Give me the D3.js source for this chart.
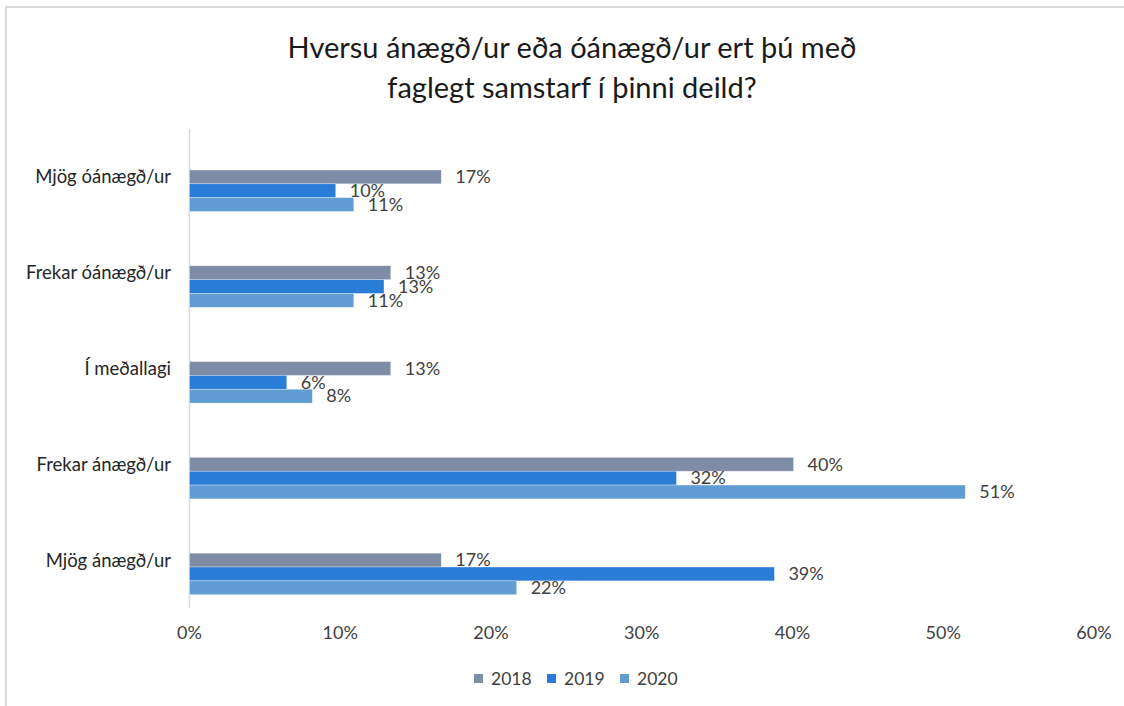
<!DOCTYPE html>
<html>
<head>
<meta charset="utf-8">
<script src="https://cdn.jsdelivr.net/npm/d3@7"></script>
<style>
  body { margin: 0; background: #fff; }
  svg { display: block; font-family: Lato, 'Open Sans', sans-serif; }
</style>
</head>
<body>
<script>
// categories, top to bottom
const categories = ['Mjög óánægð/ur', 'Frekar óánægð/ur', 'Í meðallagi', 'Frekar ánægð/ur', 'Mjög ánægð/ur']
const series = ['2018', '2019', '2020']
const colors = ['#7f8ca6', '#2a7dd6', '#5f9dd3']
// shares per year, same order as categories
const values2018 = [0.167, 0.1335, 0.1335, 0.4007, 0.167]
const values2019 = [0.097, 0.129, 0.0645, 0.323, 0.388]
const values2020 = [0.109, 0.109, 0.0815, 0.5146, 0.217]
const xTicks = [0, 0.1, 0.2, 0.3, 0.4, 0.5, 0.6]
const titleLines = ['Hversu ánægð/ur eða óánægð/ur ert þú með', 'faglegt samstarf í þinni deild?']

const allValues = [values2018, values2019, values2020]

const width = 1124
const height = 706

const svg = d3.select('body')
  .append('svg')
  .attr('width', width)
  .attr('height', height)

// light frame around the chart
svg.append('path')
  .attr('d', 'M6,' + height + 'V7H' + width)
  .attr('fill', 'none')
  .attr('stroke', '#d9d9d9')
  .attr('stroke-width', 2)

// title
svg.append('text')
  .attr('y', 48)
  .attr('text-anchor', 'middle')
  .attr('font-size', 29)
  .attr('fill', '#1a1a1a')
  .selectAll('tspan')
  .data(titleLines)
  .enter()
  .append('tspan')
  .attr('x', 572)
  .attr('y', function (d, i) { return 48 + i * 40 })
  .attr('dy', '0.35em')
  .text(function (d) { return d })

const x = d3.scaleLinear().domain([0, 0.6]).range([189.5, 1094])
const y = d3.scaleBand().domain(categories).range([129, 608])
const ySeries = d3.scaleBand().domain(series).range([0, 41.5])

// category axis line
svg.append('line')
  .attr('x1', x(0))
  .attr('x2', x(0))
  .attr('y1', y.range()[0])
  .attr('y2', y.range()[1])
  .attr('stroke', '#d9d9d9')
  .attr('stroke-width', 1.5)

// x tick labels
svg.append('g')
  .selectAll('text')
  .data(xTicks)
  .enter()
  .append('text')
  .attr('x', function (d) { return x(d) })
  .attr('y', 633)
  .attr('dy', '0.35em')
  .attr('text-anchor', 'middle')
  .attr('font-size', 18)
  .attr('fill', '#404040')
  .text(d3.format('.0%'))

// category labels
svg.append('g')
  .selectAll('text')
  .data(categories)
  .enter()
  .append('text')
  .attr('x', 171)
  .attr('y', function (d) { return y(d) + y.bandwidth() / 2 })
  .attr('dy', '0.35em')
  .attr('text-anchor', 'end')
  .attr('font-size', 18.5)
  .attr('fill', '#262626')
  .text(function (d) { return d })

// bars: the first series bar sits on the category centre
const rows = []
categories.forEach(function (c, ci) {
  series.forEach(function (s, si) {
    rows.push({ cat: c, year: s, si: si, value: allValues[si][ci] })
  })
})

function barTop (d) {
  return y(d.cat) + y.bandwidth() / 2 - ySeries.bandwidth() / 2 + ySeries(d.year)
}

svg.append('g')
  .selectAll('rect')
  .data(rows)
  .enter()
  .append('rect')
  .attr('x', x(0))
  .attr('y', barTop)
  .attr('width', function (d) { return x(d.value) - x(0) })
  .attr('height', ySeries.bandwidth())
  .attr('fill', function (d) { return colors[d.si] })
  .attr('stroke', '#ffffff')
  .attr('stroke-opacity', 0.5)
  .attr('stroke-width', 0.6)

// value labels
svg.append('g')
  .selectAll('text')
  .data(rows)
  .enter()
  .append('text')
  .attr('x', function (d) { return x(d.value) + 14 })
  .attr('y', function (d) { return barTop(d) + ySeries.bandwidth() / 2 })
  .attr('dy', '0.35em')
  .attr('font-size', 18)
  .attr('fill', '#404040')
  .text(function (d) { return d3.format('.0%')(d.value) })

// legend
const legendX = [474, 547, 620]
const legend = svg.append('g')
  .selectAll('g')
  .data(series)
  .enter()
  .append('g')
  .attr('transform', function (d, i) { return 'translate(' + legendX[i] + ',674)' })

legend.append('rect')
  .attr('width', 9)
  .attr('height', 9)
  .attr('fill', function (d, i) { return colors[i] })

legend.append('text')
  .attr('x', 17)
  .attr('y', 4.5)
  .attr('dy', '0.35em')
  .attr('font-size', 17.5)
  .attr('fill', '#404040')
  .text(function (d) { return d })
</script>
</body>
</html>
